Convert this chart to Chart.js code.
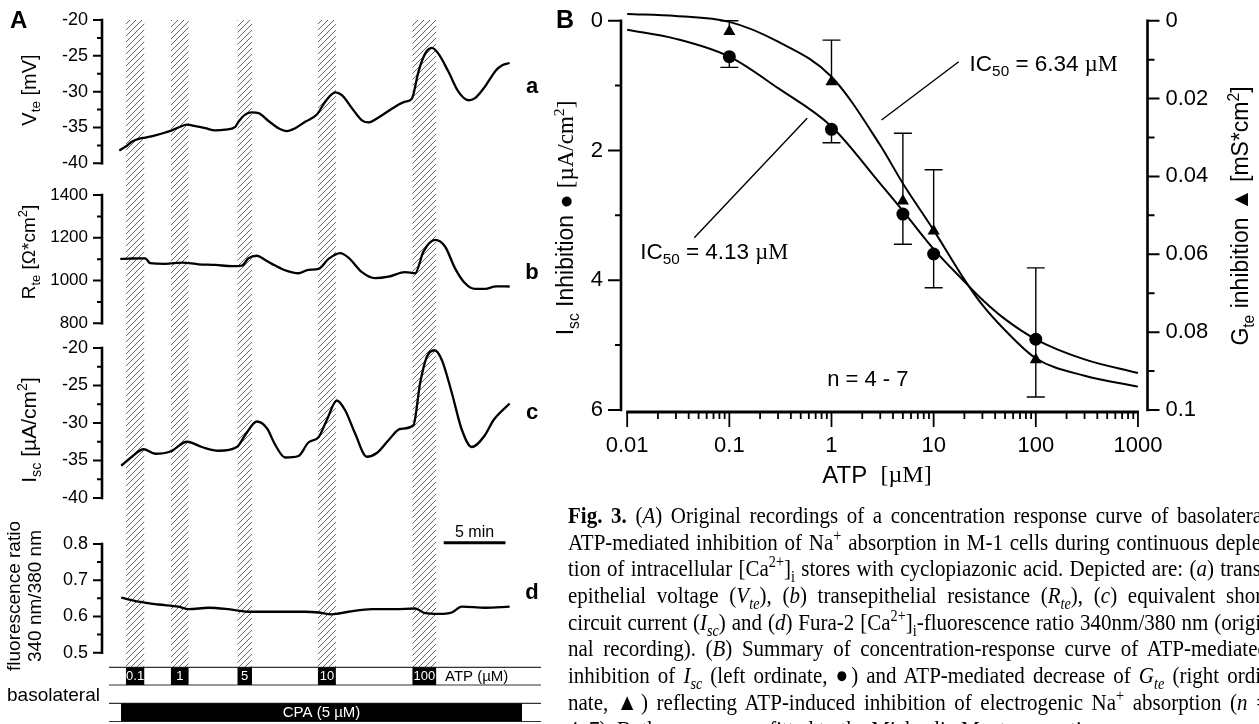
<!DOCTYPE html>
<html>
<head>
<meta charset="utf-8">
<script src="https://cdn.jsdelivr.net/npm/chart.js@4.4.1/dist/chart.umd.min.js"></script>
<style>
body{margin:0;width:1259px;height:724px;overflow:hidden;background:#fff;position:relative}
canvas{position:absolute}
#caption{position:absolute;left:568px;top:502px;width:700px;font-family:'Liberation Serif','Times New Roman',serif;font-size:21px;color:#000}
#caption div{height:26.7px;line-height:26.7px;white-space:nowrap;text-align:justify;text-align-last:justify;transform:scaleY(1.12);transform-origin:left center}
#caption div.last{text-align-last:left}
#caption sup,#caption sub{font-size:68%;line-height:0}
</style>
</head>
<body>
<canvas id="traceA" width="560" height="182" style="left:0;top:0"></canvas>
<canvas id="traceB" width="560" height="154" style="left:0;top:182px"></canvas>
<canvas id="traceC" width="560" height="186" style="left:0;top:336px"></canvas>
<canvas id="traceD" width="560" height="202" style="left:0;top:522px"></canvas>
<canvas id="dose" width="719" height="500" style="left:540px;top:0"></canvas>
<div id="caption">
<div><b>Fig. 3.</b> (<i>A</i>) Original recordings of a concentration response curve of basolateral</div>
<div>ATP-mediated inhibition of Na<sup>+</sup> absorption in M-1 cells during continuous deple-</div>
<div>tion of intracellular [Ca<sup>2+</sup>]<sub>i</sub> stores with cyclopiazonic acid. Depicted are: (<i>a</i>) trans-</div>
<div>epithelial voltage (<i>V<sub>te</sub></i>), (<i>b</i>) transepithelial resistance (<i>R<sub>te</sub></i>), (<i>c</i>) equivalent short</div>
<div>circuit current (<i>I<sub>sc</sub></i>) and (<i>d</i>) Fura-2 [Ca<sup>2+</sup>]<sub>i</sub>-fluorescence ratio 340nm/380 nm (origi-</div>
<div>nal recording). (<i>B</i>) Summary of concentration-response curve of ATP-mediated</div>
<div>inhibition of <i>I<sub>sc</sub></i> (left ordinate, ●) and ATP-mediated decrease of <i>G<sub>te</sub></i> (right ordi-</div>
<div>nate, ▲) reflecting ATP-induced inhibition of electrogenic Na<sup>+</sup> absorption (<i>n</i> =</div>
<div class="last">4–7). Both curves were fitted to the Michaelis-Menten equation.</div>
</div>
<script>
// ---- panel A : original recordings, time in min ----
const atpConc  = ['0.1', '1', '5', '10', '100'];
const atpStart = [0.54, 4.18, 9.57, 16.08, 23.73];
const atpEnd   = [2.02, 5.61, 10.74, 17.53, 25.65];
const cpaStart = 0.14, cpaEnd = 32.6;
const scaleBarStart = 26.26; // 5 min bar

const vteTime = [0, 0.49, 1.02, 1.56, 2.1, 2.91, 3.72, 4.26, 4.93, 5.48, 6.15, 6.96, 7.77, 8.58, 9.39, 9.65,
  10.19, 10.74, 11.27, 12.08, 12.89, 13.57, 14.24, 15.05, 15.99, 16.67, 17.48, 18.02, 18.83, 19.64, 20.17,
  20.98, 22.06, 23.14, 23.68, 24.22, 24.76, 25.3, 25.83, 26.64, 27.45, 28.26, 28.8, 29.6, 30.5, 31.0, 31.6];
const vteVals = [-38.2, -37.7, -37.0, -36.6, -36.4, -36.1, -35.7, -35.4, -34.9, -34.6, -34.8, -35.1, -35.4, -35.3, -34.9, -34.2,
  -33.2, -32.9, -33.0, -34.1, -35.1, -35.5, -35.1, -34.2, -33.2, -31.4, -30.1, -30.5, -32.3, -34.0, -34.3,
  -33.6, -32.4, -31.4, -31.0, -27.2, -24.7, -23.9, -24.7, -27.2, -30.0, -31.2, -30.9, -29.3, -27.0, -26.3, -26.0];

const rteTime = [0.08, 1.02, 2.1, 2.5, 3.72, 5.07, 6.42, 7.77, 9.12, 9.93, 10.46, 11.14, 11.81, 12.62, 13.57, 14.5,
  15.31, 16.13, 16.94, 17.88, 18.55, 19.64, 20.71, 21.79, 23.14, 23.95, 24.62, 25.57, 26.38, 27.18, 27.99,
  28.8, 29.61, 30.5, 31.6];
const rteVals = [1101, 1103, 1104, 1081, 1078, 1084, 1076, 1073, 1067, 1070, 1104, 1116, 1096, 1070, 1045, 1034,
  1050, 1054, 1101, 1128, 1107, 1039, 1011, 1018, 1039, 1034, 1135, 1190, 1158, 1057, 987,
  961, 961, 973, 972];

const iscTime = [0.16, 1.02, 1.97, 2.91, 4.13, 5.48, 6.69, 8.03, 9.52, 10.19, 11.14, 11.95, 12.62, 13.43, 14.5,
  15.31, 16.13, 16.8, 17.61, 18.28, 19.09, 20.04, 20.85, 21.79, 22.73, 23.81, 24.35, 24.89, 25.51, 26.11,
  26.92, 27.73, 28.53, 29.61, 30.3, 31.6];
const iscVals = [-35.7, -34.5, -33.5, -34.1, -33.8, -32.5, -33.2, -33.7, -33.2, -31.6, -29.8, -30.7, -32.9, -34.6, -34.4,
  -32.6, -31.9, -29.6, -27.0, -28.3, -31.4, -34.5, -34.0, -32.3, -30.8, -30.3, -24.7, -21.2, -20.3, -21.6,
  -26.0, -30.9, -33.2, -31.6, -29.6, -27.4];

const fluTime = [0.16, 1.56, 3.18, 4.8, 5.61, 7.23, 8.84, 10.46, 12.35, 15.05, 16.13, 17.2, 18.55, 20.44, 22.33,
  23.95, 24.76, 25.83, 26.92, 27.73, 29.61, 31.6];
const fluVals = [0.652, 0.641, 0.633, 0.627, 0.620, 0.624, 0.620, 0.613, 0.613, 0.613, 0.611, 0.606, 0.613, 0.620, 0.620,
  0.622, 0.609, 0.607, 0.611, 0.627, 0.624, 0.627];

const vteTicks = [-20, -25, -30, -35, -40];
const rteTicks = [1400, 1200, 1000, 800];
const iscTicksA = [-20, -25, -30, -35, -40];
const fluTicks = [0.8, 0.7, 0.6, 0.5];

// ---- panel B : concentration response ----
const atpDose  = [0.1, 1, 5, 10, 100];
const iscInhib = [0.555, 1.674, 2.98, 3.596, 4.91];
const iscErr   = [0.164, 0.206, 0.466, 0.52, 0.89];
const gteInhib = [0.0028, 0.0157, 0.0463, 0.054, 0.0871];
const gteErr   = [0.0028, 0.0107, 0.0174, 0.0157, 0.0236];

const fitDose = [0.01, 0.03, 0.1, 0.3, 1, 3, 5, 10, 20, 30, 50, 100, 300, 1000];
const iscFit  = [0.14, 0.28, 0.555, 1.04, 1.63, 2.51, 2.93, 3.52, 4.02, 4.30, 4.60, 4.91, 5.22, 5.43];
const gteFit  = [-0.0017, -0.0012, 0.0003, 0.0054, 0.0144, 0.032, 0.0418, 0.0538, 0.0665, 0.073, 0.0795, 0.0867, 0.0912, 0.094];

const doseTicks = [0.01, 0.1, 1, 10, 100, 1000];
const doseTickLabels = ['0.01', '0.1', '1', '10', '100', '1000'];
const iscTicksB = [0, 2, 4, 6];
const gteTicks = [0, 0.02, 0.04, 0.06, 0.08, 0.1];
const gteTickLabels = ['0', '0.02', '0.04', '0.06', '0.08', '0.1'];

const SANS = "'Liberation Sans', Arial, sans-serif";
const SERIF = "'Liberation Serif', 'Times New Roman', serif";

// parts: [text, 'sub'|'sup'|'bold'|'', 'serif'?]
function drawRich(ctx, parts, x, y, size, align, angle, color) {
  ctx.save();
  ctx.translate(x, y);
  if (angle) ctx.rotate(angle);
  ctx.textBaseline = 'middle';
  ctx.textAlign = 'left';
  ctx.fillStyle = color || '#000';
  const fontOf = p => (p[1] === 'bold' ? 'bold ' : '') +
    ((p[1] === 'sub' || p[1] === 'sup') ? size * 0.68 : size) + 'px ' + (p[2] === 'serif' ? SERIF : SANS);
  let w = 0;
  parts.forEach(p => { ctx.font = fontOf(p); w += ctx.measureText(p[0]).width; });
  let cx = align === 'center' ? -w / 2 : align === 'right' ? -w : 0;
  parts.forEach(p => {
    ctx.font = fontOf(p);
    const dy = p[1] === 'sub' ? size * 0.32 : p[1] === 'sup' ? -size * 0.33 : 0;
    ctx.fillText(p[0], cx, dy);
    cx += ctx.measureText(p[0]).width;
  });
  ctx.restore();
}

const traceDefs = [
  { id: 'traceA', top: 0, height: 182, areaTop: 20, areaBottom: 163.3, min: -40, max: -20, minor: 2.5,
    ticks: vteTicks, fmt: v => String(v), tickSize: 18, time: vteTime, vals: vteVals,
    titles: [{ parts: [['V'], ['te', 'sub'], [' [mV]']], x: 30, y: 90, size: 20 }], letter: 'a', letterY: 87 },
  { id: 'traceB', top: 182, height: 154, areaTop: 195, areaBottom: 323.3, min: 800, max: 1400, minor: 100,
    ticks: rteTicks, fmt: v => String(v), tickSize: 17, time: rteTime, vals: rteVals,
    titles: [{ parts: [['R'], ['te', 'sub'], [' [Ω*cm'], ['2', 'sup'], [']']], x: 30, y: 252, size: 19 }], letter: 'b', letterY: 273 },
  { id: 'traceC', top: 336, height: 186, areaTop: 348, areaBottom: 498, min: -40, max: -20, minor: 2.5,
    ticks: iscTicksA, fmt: v => String(v), tickSize: 18, time: iscTime, vals: iscVals,
    titles: [{ parts: [['I'], ['sc', 'sub'], [' [µA/cm'], ['2', 'sup'], [']']], x: 30, y: 430, size: 21 }], letter: 'c', letterY: 413 },
  { id: 'traceD', top: 522, height: 202, areaTop: 544, areaBottom: 652.7, min: 0.5, max: 0.8, minor: 0.05,
    ticks: fluTicks, fmt: v => v.toFixed(1), tickSize: 18, time: fluTime, vals: fluVals,
    titles: [{ parts: [['fluorescence ratio']], x: 15, y: 596, size: 19 },
             { parts: [['340 nm/380 nm']], x: 36, y: 596, size: 19 }], letter: 'd', letterY: 593 }
];

function recordingPlugin(d) {
  return {
    id: 'recording' + d.id,
    beforeDatasetsDraw(chart) {
      const ctx = chart.ctx, xs = chart.scales.x;
      const y0 = Math.max(0, 20 - d.top), y1 = Math.min(d.height, 667 - d.top);
      ctx.save();
      ctx.strokeStyle = '#555';
      ctx.lineWidth = 0.9;
      atpStart.forEach((s, i) => {
        const xa = xs.getPixelForValue(s), xb = xs.getPixelForValue(atpEnd[i]);
        ctx.save();
        ctx.beginPath();
        ctx.rect(xa, y0, xb - xa, y1 - y0);
        ctx.clip();
        ctx.beginPath();
        for (let c = Math.floor((xa + y0 + d.top) / 6) * 6; c <= xb + y1 + d.top + 6; c += 6) {
          ctx.moveTo(c - (y0 + d.top), y0);
          ctx.lineTo(c - (y1 + d.top), y1);
        }
        ctx.stroke();
        ctx.restore();
      });
      ctx.restore();
    },
    afterDraw(chart) {
      const ctx = chart.ctx, xs = chart.scales.x, ys = chart.scales.y, L = chart.chartArea.left;
      const py = p => p - d.top;
      ctx.save();
      ctx.strokeStyle = '#000';
      ctx.fillStyle = '#000';
      ctx.lineWidth = 2.6;
      ctx.beginPath();
      ctx.moveTo(L, ys.getPixelForValue(d.max) - 1.3);
      ctx.lineTo(L, ys.getPixelForValue(d.min) + 1.3);
      ctx.stroke();
      ctx.lineWidth = 2;
      ctx.beginPath();
      for (let v = d.min; v <= d.max + 1e-9; v += d.minor) {
        const major = d.ticks.some(t => Math.abs(t - v) < 1e-6);
        const p = ys.getPixelForValue(v);
        ctx.moveTo(L, p);
        ctx.lineTo(L - (major ? 9 : 5), p);
      }
      ctx.stroke();
      ctx.font = d.tickSize + 'px ' + SANS;
      ctx.textAlign = 'right';
      ctx.textBaseline = 'middle';
      d.ticks.forEach(t => ctx.fillText(d.fmt(t), L - 14, ys.getPixelForValue(t)));
      d.titles.forEach(t => drawRich(ctx, t.parts, t.x, py(t.y), t.size, 'center', -Math.PI / 2));
      drawRich(ctx, [[d.letter, 'bold']], 532, py(d.letterY), 22, 'center');

      if (d.id === 'traceA') drawRich(ctx, [['A', 'bold']], 10, 21, 24, 'left');

      if (d.id === 'traceD') {
        const X = v => xs.getPixelForValue(v);
        // 5 min bar
        ctx.lineWidth = 3;
        ctx.beginPath();
        ctx.moveTo(X(scaleBarStart), py(542.7));
        ctx.lineTo(X(scaleBarStart + 5), py(542.7));
        ctx.stroke();
        drawRich(ctx, [['5 min']], (X(scaleBarStart) + X(scaleBarStart + 5)) / 2, py(533), 16, 'center');
        // application protocol
        ctx.strokeStyle = '#333';
        ctx.lineWidth = 1.2;
        ctx.beginPath();
        [667.3, 685, 703.3, 721.5].forEach(r => { ctx.moveTo(109, py(r)); ctx.lineTo(541, py(r)); });
        ctx.stroke();
        atpStart.forEach((s, i) => {
          ctx.fillStyle = '#000';
          ctx.fillRect(X(s), py(667.3), X(atpEnd[i]) - X(s), 17.7);
          drawRich(ctx, [[atpConc[i]]], (X(s) + X(atpEnd[i])) / 2, py(676.5), 13, 'center', 0, '#fff');
        });
        drawRich(ctx, [['ATP (µM)']], 445, py(676.5), 15, 'left');
        drawRich(ctx, [['basolateral']], 7, py(696), 19, 'left');
        ctx.fillStyle = '#000';
        ctx.fillRect(X(cpaStart), py(703.3), X(cpaEnd) - X(cpaStart), 18);
        drawRich(ctx, [['CPA (5 µM)']], (X(cpaStart) + X(cpaEnd)) / 2, py(713), 15, 'center', 0, '#fff');
      }
      ctx.restore();
    }
  };
}

traceDefs.forEach(d => {
  new Chart(document.getElementById(d.id), {
    type: 'line',
    data: {
      datasets: [{
        data: d.time.map((t, i) => ({ x: t, y: d.vals[i] })),
        borderColor: '#000',
        borderWidth: 2.3,
        pointRadius: 0,
        cubicInterpolationMode: 'monotone',
        clip: false
      }]
    },
    options: {
      responsive: false,
      animation: false,
      devicePixelRatio: 1,
      events: [],
      layout: { padding: { left: 102, right: 38, top: d.areaTop - d.top, bottom: d.top + d.height - d.areaBottom } },
      plugins: { legend: { display: false }, tooltip: { enabled: false } },
      scales: {
        x: { type: 'linear', min: -1.4, max: 32.6, display: false },
        y: { type: 'linear', min: d.min, max: d.max, display: false }
      }
    },
    plugins: [recordingPlugin(d)]
  });
});

const doseAxes = {
  id: 'doseAxes',
  beforeDatasetsDraw(chart) {
    const ctx = chart.ctx, { x, y, y2 } = chart.scales;
    ctx.save();
    ctx.strokeStyle = '#000';
    ctx.lineWidth = 1.4;
    ctx.beginPath();
    atpDose.forEach((d, i) => {
      const px = x.getPixelForValue(d);
      const a = y.getPixelForValue(iscInhib[i]), b = y.getPixelForValue(iscInhib[i] + iscErr[i]);
      ctx.moveTo(px, a); ctx.lineTo(px, b);
      ctx.moveTo(px - 9, b); ctx.lineTo(px + 9, b);
      const c = y2.getPixelForValue(gteInhib[i]), e = y2.getPixelForValue(gteInhib[i] - gteErr[i]);
      ctx.moveTo(px, c); ctx.lineTo(px, e);
      ctx.moveTo(px - 9, e); ctx.lineTo(px + 9, e);
    });
    ctx.stroke();
    ctx.restore();
  },
  afterDraw(chart) {
    const ctx = chart.ctx, ca = chart.chartArea, { x, y, y2 } = chart.scales;
    ctx.save();
    ctx.strokeStyle = '#000';
    ctx.fillStyle = '#000';
    // left axis
    ctx.lineWidth = 2.6;
    ctx.beginPath();
    ctx.moveTo(ca.left, ca.top - 1.3); ctx.lineTo(ca.left, ca.bottom + 1.3);
    ctx.moveTo(ca.right, ca.top - 1.3); ctx.lineTo(ca.right, ca.bottom + 1.3);
    ctx.stroke();
    ctx.lineWidth = 2;
    ctx.beginPath();
    for (let v = 0; v <= 6; v++) {
      const p = y.getPixelForValue(v);
      ctx.moveTo(ca.left, p); ctx.lineTo(ca.left - (v % 2 === 0 ? 13 : 6), p);
    }
    for (let k = 0; k <= 10; k++) {
      const p = y2.getPixelForValue(k / 100);
      ctx.moveTo(ca.right, p); ctx.lineTo(ca.right + (k % 2 === 0 ? 12 : 7), p);
    }
    ctx.stroke();
    ctx.font = '22px ' + SANS;
    ctx.textBaseline = 'middle';
    ctx.textAlign = 'right';
    iscTicksB.forEach(t => ctx.fillText(String(t), ca.left - 18, y.getPixelForValue(t)));
    ctx.textAlign = 'left';
    gteTicks.forEach((t, i) => ctx.fillText(gteTickLabels[i], ca.right + 18, y2.getPixelForValue(t)));
    // bottom log axis
    const by = 412;
    ctx.lineWidth = 3;
    ctx.beginPath();
    ctx.moveTo(x.getPixelForValue(0.01) - 1, by); ctx.lineTo(x.getPixelForValue(1000) + 1, by);
    ctx.stroke();
    ctx.lineWidth = 1.8;
    ctx.beginPath();
    for (let e = -2; e <= 3; e++) {
      for (let m = 1; m <= 9; m++) {
        const v = m * Math.pow(10, e);
        if (v > 1000.0001) break;
        const p = x.getPixelForValue(v);
        ctx.moveTo(p, by); ctx.lineTo(p, by + (m === 1 ? 15 : 7));
      }
    }
    ctx.stroke();
    ctx.textAlign = 'center';
    doseTicks.forEach((t, i) => ctx.fillText(doseTickLabels[i], x.getPixelForValue(t), by + 34));
    // titles
    drawRich(ctx, [['B', 'bold']], 16, 21, 25, 'left');
    drawRich(ctx, [['I'], ['sc', 'sub'], [' Inhibition ● '], ['[µA/cm', '', 'serif'], ['2', 'sup', 'serif'], [']', '', 'serif']],
      27, 218, 23, 'center', -Math.PI / 2);
    drawRich(ctx, [['G'], ['te', 'sub'], [' inhibition ▲ [mS*cm'], ['2', 'sup'], [']']],
      702, 216, 23, 'center', -Math.PI / 2);
    drawRich(ctx, [['ATP  '], ['[µM]', '', 'serif']], 337, 476, 24, 'center');
    // annotations, in data coordinates
    drawRich(ctx, [['IC'], ['50', 'sub'], [' = 6.34 '], ['µM', '', 'serif']], x.getPixelForValue(22.5), y.getPixelForValue(0.683), 22.5, 'left');
    drawRich(ctx, [['IC'], ['50', 'sub'], [' = 4.13 '], ['µM', '', 'serif']], x.getPixelForValue(0.0134), y.getPixelForValue(3.58), 22.5, 'left');
    drawRich(ctx, [['n = 4 - 7']], x.getPixelForValue(0.907), y.getPixelForValue(5.53), 22, 'left');
    ctx.lineWidth = 1.4;
    ctx.beginPath();
    ctx.moveTo(x.getPixelForValue(17.6), y.getPixelForValue(0.632));
    ctx.lineTo(x.getPixelForValue(3.09), y.getPixelForValue(1.53));
    ctx.moveTo(x.getPixelForValue(0.0454), y.getPixelForValue(3.345));
    ctx.lineTo(x.getPixelForValue(0.578), y.getPixelForValue(1.504));
    ctx.stroke();
    ctx.restore();
  }
};

new Chart(document.getElementById('dose'), {
  type: 'line',
  data: {
    datasets: [
      { data: fitDose.map((d, i) => ({ x: d, y: iscFit[i] })), yAxisID: 'y', borderColor: '#000', borderWidth: 2,
        pointRadius: 0, cubicInterpolationMode: 'monotone', clip: false },
      { data: fitDose.map((d, i) => ({ x: d, y: gteFit[i] })), yAxisID: 'y2', borderColor: '#000', borderWidth: 2,
        pointRadius: 0, cubicInterpolationMode: 'monotone', clip: false },
      { data: atpDose.map((d, i) => ({ x: d, y: iscInhib[i] })), yAxisID: 'y', showLine: false, pointStyle: 'circle',
        pointRadius: 6.5, pointBackgroundColor: '#000', pointBorderColor: '#000', pointBorderWidth: 0, clip: false },
      { data: atpDose.map((d, i) => ({ x: d, y: gteInhib[i] })), yAxisID: 'y2', showLine: false, pointStyle: 'triangle',
        pointRadius: 7, pointBackgroundColor: '#000', pointBorderColor: '#000', pointBorderWidth: 0, clip: false }
    ]
  },
  options: {
    responsive: false,
    animation: false,
    devicePixelRatio: 1,
    events: [],
    layout: { padding: { left: 81, top: 20.7, right: 111.5, bottom: 90 } },
    plugins: { legend: { display: false }, tooltip: { enabled: false } },
    scales: {
      x: { type: 'logarithmic', min: 0.0087, max: 1240, display: false },
      y: { type: 'linear', min: 0, max: 6, reverse: true, display: false },
      y2: { type: 'linear', position: 'right', min: 0, max: 0.1, reverse: true, display: false }
    }
  },
  plugins: [doseAxes]
});
</script>
</body>
</html>
